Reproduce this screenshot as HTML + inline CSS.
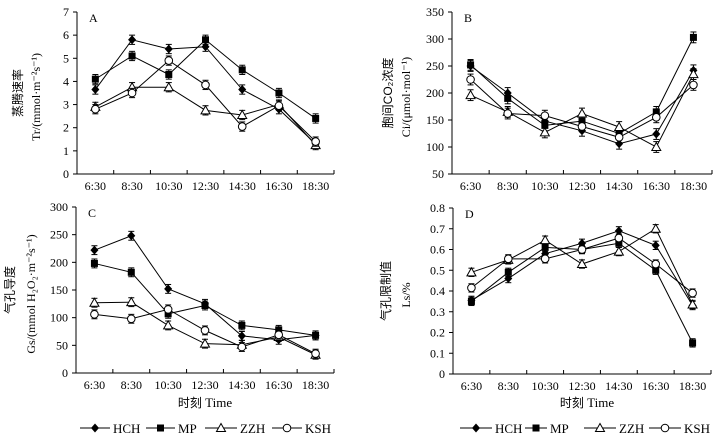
<!DOCTYPE html>
<html><head><meta charset="utf-8">
<style>
html,body{margin:0;padding:0;background:#fff;}
svg{display:block;}
text{font-family:"Liberation Serif","Noto Serif CJK SC",serif;fill:#000;}
.cn{font-family:"Liberation Sans","Noto Sans CJK SC",sans-serif;}
</style></head>
<body>
<svg id="chart" width="725" height="444" viewBox="0 0 725 444" xmlns="http://www.w3.org/2000/svg"></svg>
<script>
const categories = ["6:30","8:30","10:30","12:30","14:30","16:30","18:30"];
const seriesNames = ["HCH","MP","ZZH","KSH"];
// Panel A: transpiration rate
const aHCH = [3.65,5.8,5.4,5.5,3.65,2.8,1.3];
const aMP  = [4.1,5.1,4.3,5.8,4.5,3.5,2.4];
const aZZH = [2.9,3.75,3.75,2.75,2.55,3.0,1.25];
const aKSH = [2.8,3.5,4.9,3.85,2.05,2.95,1.4];
const aTicks = [0,1,2,3,4,5,6,7];
// Panel B: intercellular CO2
const bHCH = [250,200,148,130,106,124,242];
const bMP  = [252,190,140,148,125,165,303];
const bZZH = [196,165,127,162,137,100,235];
const bKSH = [225,162,158,138,118,155,215];
const bTicks = [50,100,150,200,250,300,350];
// Panel C: stomatal conductance
const cHCH = [222,248,152,125,67,60,68];
const cMP  = [198,182,107,122,86,78,68];
const cZZH = [127,128,86,53,51,65,33];
const cKSH = [106,98,115,77,47,69,35];
const cTicks = [0,50,100,150,200,250,300];
// Panel D: stomatal limitation
const dHCH = [0.355,0.46,0.58,0.63,0.69,0.62,0.33];
const dMP  = [0.35,0.49,0.61,0.60,0.63,0.50,0.15];
const dZZH = [0.49,0.55,0.645,0.53,0.59,0.70,0.335];
const dKSH = [0.415,0.555,0.555,0.60,0.655,0.53,0.39];
const dTicks = ["0","0.1","0.2","0.3","0.4","0.5","0.6","0.7","0.8"];

const NS="http://www.w3.org/2000/svg";
const svg=document.getElementById('chart');
function mk(tag,attrs,parent){const e=document.createElementNS(NS,tag);for(const k in attrs)e.setAttribute(k,attrs[k]);(parent||svg).appendChild(e);return e;}

const panels=[
 {id:'a',letter:'A',x0:77,x1:334,yTop:12,yBot:174,min:0,max:7,ticks:aTicks,data:[aHCH,aMP,aZZH,aKSH],err:0.2,
  t1:'蒸腾速率',t2:'Tr/(mmol·m⁻²s⁻¹)',tx1:22,tx2:40},
 {id:'b',letter:'B',x0:452,x1:712,yTop:12,yBot:174,min:50,max:350,ticks:bTicks,data:[bHCH,bMP,bZZH,bKSH],err:10,
  t1:'胞间CO₂浓度',t2:'Ci/(μmol·mol⁻¹)',tx1:392,tx2:410},
 {id:'c',letter:'C',x0:76,x1:334,yTop:207,yBot:373,min:0,max:300,ticks:cTicks,data:[cHCH,cMP,cZZH,cKSH],err:8,
  t1:'气孔导度',t2:'Gs/(mmol H₂O₂·m⁻²s⁻¹)',tx1:14,tx2:35},
 {id:'d',letter:'D',x0:453,x1:711,yTop:208,yBot:374,min:0,max:0.8,ticks:dTicks,data:[dHCH,dMP,dZZH,dKSH],err:0.02,
  t1:'气孔限制值',t2:'Ls/%',tx1:390,tx2:410}
];

function marker(g,type,x,y){
  let m;
  if(type===0){m=mk('polygon',{points:`${x},${y-4.5} ${x+4},${y} ${x},${y+4.5} ${x-4},${y}`,fill:'#000'},g);}
  else if(type===1){m=mk('rect',{x:x-3.5,y:y-3.5,width:7,height:7,fill:'#000'},g);}
  else if(type===2){m=mk('polygon',{points:`${x},${y-4.5} ${x+4.5},${y+3.5} ${x-4.5},${y+3.5}`,fill:'#fff',stroke:'#000','stroke-width':1},g);}
  else {m=mk('circle',{cx:x,cy:y,r:3.8,fill:'#fff',stroke:'#000','stroke-width':1},g);}
  return m;
}

panels.forEach(p=>{
  const g=mk('g',{});
  
  
  const n=categories.length, w=(p.x1-p.x0)/n;
  const xs=i=>p.x0+w*(i+0.5);
  const ys=v=>p.yBot-(v-p.min)/(p.max-p.min)*(p.yBot-p.yTop);
  // axes
  const ya=mk('line',{x1:p.x0,y1:p.yTop,x2:p.x0,y2:p.yBot,stroke:'#000','stroke-width':1},g);
  
  const xa=mk('line',{x1:p.x0,y1:p.yBot,x2:p.x1,y2:p.yBot,stroke:'#000','stroke-width':1},g);
  
  p.ticks.forEach(t=>{
    const v=parseFloat(t),y=ys(v);
    mk('line',{x1:p.x0-4,y1:y,x2:p.x0,y2:y,stroke:'#000'},g);
    const tl=mk('text',{x:p.x0-8,y:y+4,'text-anchor':'end','font-size':12},g);
    tl.textContent=t;
    
  });
  for(let i=0;i<=n;i++){const x=p.x0+w*i;mk('line',{x1:x,y1:p.yBot,x2:x,y2:p.yBot-4,stroke:'#000'},g);}
  categories.forEach((c,i)=>{
    const tl=mk('text',{x:xs(i),y:p.yBot+16,'text-anchor':'middle','font-size':12},g);
    tl.textContent=c;
    
  });
  const lt=mk('text',{x:p.x0+12,y:p.yTop+10,'font-size':12},g);
  lt.textContent=p.letter;
  
  // y titles
  const cy=(p.yTop+p.yBot)/2;
  const t1=mk('text',{x:p.tx1,y:cy,'text-anchor':'middle','font-size':12,class:'cn',transform:`rotate(-90 ${p.tx1} ${cy})`,fill:'#333'},g);
  t1.textContent=p.t1;
  
  const t2=mk('text',{x:p.tx2,y:cy+4,'text-anchor':'middle','font-size':12,transform:`rotate(-90 ${p.tx2} ${cy+4})`},g);
  t2.textContent=p.t2;
  
  // series
  p.data.forEach((arr,s)=>{
    const sg=mk('g',{},g);
    
    
    const pts=arr.map((v,i)=>xs(i)+','+ys(v)).join(' ');
    mk('polyline',{points:pts,fill:'none',stroke:'#000','stroke-width':1},sg);
    arr.forEach((v,i)=>{
      const x=xs(i),yh=ys(v+p.err),yl=ys(v-p.err);
      mk('line',{x1:x,y1:yh,x2:x,y2:yl,stroke:'#000'},sg);
      mk('line',{x1:x-3,y1:yh,x2:x+3,y2:yh,stroke:'#000'},sg);
      mk('line',{x1:x-3,y1:yl,x2:x+3,y2:yl,stroke:'#000'},sg);
    });
    arr.forEach((v,i)=>{
      const m=marker(sg,s,xs(i),ys(v));
      
      
    });
  });
});

// x titles & legends
[[205,407],[587,407]].forEach(([x,y])=>{
  const t=mk('text',{x:x,y:y,'text-anchor':'middle','font-size':13});
  t.innerHTML='<tspan class="cn" font-size="12">时刻</tspan> Time';
  
});
function legend(startXs,textXs,y){
  const lg=mk('g',{});
  
  seriesNames.forEach((nm,s)=>{
    const e=mk('g',{},lg);
    
    
    mk('line',{x1:startXs[s],y1:y,x2:textXs[s]-3,y2:y,stroke:'#000'},e);
    marker(e,s,(startXs[s]+textXs[s]-3)/2,y);
    const t=mk('text',{x:textXs[s],y:y+5,'font-size':13},e);
    t.textContent=nm;
  });
}
legend([80,146,205,272],[113,178,240,305],428);
legend([460,525,584,649],[495,550,619,684],428);
</script>
</body></html>
